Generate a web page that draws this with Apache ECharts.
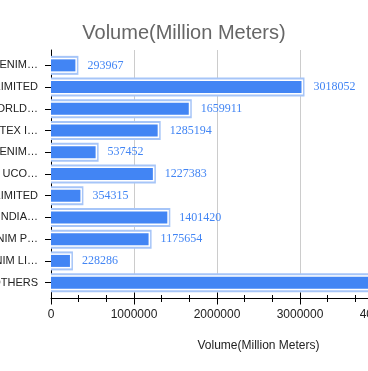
<!DOCTYPE html>
<html>
<head>
<meta charset="utf-8">
<script src="https://cdn.jsdelivr.net/npm/echarts@6/dist/echarts.min.js"></script>
<style>html,body{margin:0;padding:0;background:#fff;}#c{width:368px;height:371px;}</style>
</head>
<body>
<div id="c"></div>
<script>
var categories = ["ARVIND DENIM MILLS", "RSWM LIMITED", "COTTON WORLD PVT LTD", "SANGAM TEX INDIA", "NANDAN DENIM LIMITED", "RAYMOND UCO DENIM", "KG LIMITED", "DONEAR INDIA LTD", "AMBA DENIM PVT LTD", "OSW DENIM LIMITED", "OTHERS"];
var values = [293967, 3018052, 1659911, 1285194, 537452, 1227383, 354315, 1401420, 1175654, 228286, 4500000];
var axisMax = 5000000;
var axisStep = 1000000;

function shortName(s) {
  if (s.length <= 12) return s;
  return s.slice(0, 12).replace(/\s+$/, '') + '\u2026';
}

var FONT = 'Liberation Sans, Arial, sans-serif';
var frameData = values.map(function (v, i) { return [v, i]; });

function renderFrame(params, api) {
  var end = api.coord([api.value(0), api.value(1)]);
  var start = api.coord([0, api.value(1)]);
  var x0 = start[0], xe = end[0], yc = end[1];
  return {
    type: 'group',
    children: [
      { type: 'rect', shape: { x: x0, y: yc - 9.5, width: xe - x0 + 3, height: 19 }, style: { fill: '#a6c5f8' } },
      { type: 'rect', shape: { x: x0, y: yc - 7.5, width: xe - x0 + 1.5, height: 15 }, style: { fill: '#ffffff' } }
    ]
  };
}

var chart = echarts.init(document.getElementById('c'));
chart.setOption({
  animation: false,
  title: {
    text: 'Volume(Million Meters)',
    left: 'center', top: 18,
    textStyle: { fontFamily: FONT, fontSize: 20, fontWeight: 'normal', color: '#666' }
  },
  grid: [
    { left: 51, top: 50, width: 415, height: 248.5, containLabel: false, outerBoundsMode: 'none' },
    { left: 51, top: 54.5, width: 415, height: 239, containLabel: false, outerBoundsMode: 'none' }
  ],
  xAxis: [
    {
      gridIndex: 0, type: 'value', min: 0, max: axisMax, interval: axisStep,
      name: 'Volume(Million Meters)', nameLocation: 'middle', nameGap: 41,
      nameTextStyle: { fontFamily: FONT, fontSize: 12, color: '#222' },
      axisLine: { show: true, lineStyle: { color: '#000', width: 1 } },
      axisTick: { show: true, length: 6, lineStyle: { color: '#000' } },
      minorTick: { show: true, splitNumber: 3, length: 3.5, lineStyle: { color: '#000' } },
      axisLabel: { fontFamily: FONT, fontSize: 12, color: '#222', margin: 10, formatter: function (v) { return String(v); } },
      splitLine: { show: true, lineStyle: { color: '#ccc', width: 1 } }
    },
    {
      gridIndex: 0, type: 'value', min: 0, max: axisMax, interval: axisStep, position: 'bottom',
      axisLine: { show: false },
      axisTick: { show: true, inside: true, length: 6, lineStyle: { color: '#000' } },
      minorTick: { show: true, splitNumber: 3, length: 3.5, lineStyle: { color: '#000' } },
      axisLabel: { show: false },
      splitLine: { show: false }
    },
    {
      gridIndex: 1, type: 'value', min: 0, max: axisMax, show: false
    }
  ],
  yAxis: [
    {
      gridIndex: 0, type: 'value', min: 0, max: 1,
      axisLine: { show: true, lineStyle: { color: '#000', width: 1 } },
      axisTick: { show: false }, axisLabel: { show: false }, splitLine: { show: false }
    },
    {
      gridIndex: 1, type: 'category', data: categories, inverse: true,
      axisLine: { show: false },
      axisTick: { show: true, alignWithLabel: true, length: 6, lineStyle: { color: '#000' } },
      axisLabel: { fontFamily: FONT, fontSize: 11, color: '#222', margin: 13, formatter: shortName },
      splitLine: { show: false }
    }
  ],
  series: [
    {
      type: 'custom', xAxisIndex: 2, yAxisIndex: 1, data: frameData, z: 2,
      encode: { x: 0, y: 1 }, renderItem: renderFrame, silent: true
    },
    {
      type: 'bar', xAxisIndex: 2, yAxisIndex: 1, data: values, barWidth: 12, z: 3,
      itemStyle: { color: '#4285f4' },
      label: {
        show: true, position: 'right', distance: 12,
        fontFamily: 'Liberation Serif, Times New Roman, serif', fontSize: 12, color: '#4285f4'
      }
    }
  ]
});
</script>
</body>
</html>
